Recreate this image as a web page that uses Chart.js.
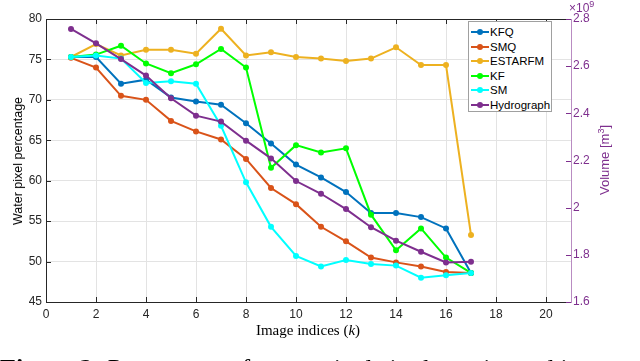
<!DOCTYPE html>
<html>
<head>
<meta charset="utf-8">
<script src="https://cdn.jsdelivr.net/npm/chart.js@4.4.0/dist/chart.umd.min.js"></script>
<style>
  body { margin: 0; background: #fff; }
  .wrap { position: relative; width: 640px; height: 361px; overflow: hidden; font-family: "Liberation Sans", Arial, sans-serif; }
  canvas { position: absolute; left: 0; top: 0; }
  .legend { position: absolute; left: 468px; top: 21px; width: 82px; height: 89px; background: #fff; border: 1px solid #a0a0a0; }
  .legend .row { position: absolute; left: 0; height: 14px; font-size: 11.5px; line-height: 14px; color: #000; white-space: nowrap; }
  .legend .swatch { position: absolute; left: 2px; top: 6px; width: 18px; height: 2px; }
  .legend .dot { position: absolute; left: 6px; top: -2px; width: 6px; height: 6px; border-radius: 50%; }
  .legend .txt { position: absolute; left: 21px; top: 0; }
  .ylab { position: absolute; left: 18px; top: 161px; font-size: 12.5px; transform: translate(-50%, -50%) rotate(-90deg); white-space: nowrap; color: #000; }
  .y2lab { position: absolute; left: 604px; top: 160px; font-size: 13px; transform: translate(-50%, -50%) rotate(-90deg); white-space: nowrap; color: #7E2F8E; }
  .y2lab sup, .exp sup { font-size: 9px; }
  .exp { position: absolute; left: 569px; top: -1px; font-size: 12px; color: #7E2F8E; }
  .xlab { position: absolute; left: 308px; top: 322px; transform: translateX(-50%); font-family: "Liberation Serif", "Times New Roman", serif; font-size: 15px; white-space: nowrap; }
  .caption { position: absolute; left: 0; top: 356px; font-family: "Liberation Serif", "Times New Roman", serif; font-size: 26px; line-height: 26px; white-space: nowrap; }
</style>
</head>
<body>
<div class="wrap">
  <canvas id="myChart" width="640" height="361"></canvas>
  <div class="legend" id="legend"></div>
  <div class="ylab">Water pixel percentage</div>
  <div class="y2lab">Volume [m<sup>3</sup>]</div>
  <div class="exp">&times;10<sup>9</sup></div>
  <div class="xlab">Image indices (<i>k</i>)</div>
  <div class="caption"><b>Figure 2:</b> Percentage of water pixels in the estimated images</div>
</div>
<script>
const indices = [1, 2, 3, 4, 5, 6, 7, 8, 9, 10, 11, 12, 13, 14, 15, 16, 17];

const kfq = [75.3, 75.3, 72.0, 72.5, 70.3, 69.8, 69.4, 67.1, 64.6, 62.0, 60.4, 58.6, 56.0, 56.0, 55.5, 54.1, 48.6];
const smq = [75.2, 74.0, 70.5, 70.0, 67.4, 66.1, 65.1, 62.7, 59.1, 57.1, 54.3, 52.5, 50.5, 49.9, 49.4, 48.7, 48.6];
const estarfm = [75.3, 76.9, 75.5, 76.2, 76.2, 75.7, 78.8, 75.5, 75.9, 75.3, 75.1, 74.8, 75.1, 76.5, 74.3, 74.3, 53.3];
const kf = [75.3, 75.6, 76.7, 74.5, 73.3, 74.4, 76.3, 74.0, 61.6, 64.4, 63.5, 64.0, 55.8, 51.4, 54.1, 50.5, 48.6];
const sm = [75.3, 75.5, 75.1, 72.1, 72.3, 72.0, 66.8, 59.8, 54.3, 50.7, 49.4, 50.2, 49.7, 49.5, 48.0, 48.3, 48.6];
// volume in m^3 (right axis)
const hydrograph = [2.758e9, 2.697e9, 2.630e9, 2.560e9, 2.464e9, 2.390e9, 2.365e9, 2.284e9, 2.209e9,
  2.113e9, 2.059e9, 1.994e9, 1.917e9, 1.860e9, 1.813e9, 1.768e9, 1.771e9];

const names = ["KFQ", "SMQ", "ESTARFM", "KF", "SM", "Hydrograph"];
const colors = ["#0072BD", "#D95319", "#EDB120", "#00FF00", "#00FFFF", "#7E2F8E"];
const series = [kfq, smq, estarfm, kf, sm, hydrograph];

const leftTicks = [45, 50, 55, 60, 65, 70, 75, 80];
const rightTicks = [1.6e9, 1.8e9, 2.0e9, 2.2e9, 2.4e9, 2.6e9, 2.8e9];
const xTicks = [0, 2, 4, 6, 8, 10, 12, 14, 16, 18, 20];

const datasets = series.map((s, i) => ({
  label: names[i],
  data: indices.map((k, j) => ({ x: k, y: s[j] })),
  borderColor: colors[i],
  backgroundColor: colors[i],
  borderWidth: 2,
  pointRadius: 3,
  pointBorderWidth: 0,
  pointHoverRadius: 3,
  tension: 0,
  yAxisID: i === 5 ? "y2" : "y",
  order: names.length - i,
}));

// legend
const legendEl = document.getElementById("legend");
names.forEach((n, i) => {
  const row = document.createElement("div");
  row.className = "row";
  row.style.top = (3 + i * 14.5) + "px";
  row.innerHTML = '<div class="swatch" style="background:' + colors[i] + '"><div class="dot" style="background:' +
    colors[i] + '"></div></div><div class="txt">' + n + "</div>";
  legendEl.appendChild(row);
});

// MATLAB style inward tick marks
const innerTicks = {
  id: "innerTicks",
  afterDraw(chart) {
    const { ctx, chartArea: a, scales } = chart;
    ctx.save();
    ctx.lineWidth = 1;
    ctx.strokeStyle = "#262626";
    ctx.beginPath();
    xTicks.forEach(v => {
      const px = Math.round(scales.x.getPixelForValue(v)) + 0.5;
      ctx.moveTo(px, a.bottom); ctx.lineTo(px, a.bottom - 5);
      ctx.moveTo(px, a.top); ctx.lineTo(px, a.top + 5);
    });
    leftTicks.forEach(v => {
      const py = Math.round(scales.y.getPixelForValue(v)) + 0.5;
      ctx.moveTo(a.left, py); ctx.lineTo(a.left + 5, py);
    });
    ctx.stroke();
    ctx.strokeStyle = "#7E2F8E";
    ctx.beginPath();
    rightTicks.forEach(v => {
      const py = Math.round(scales.y2.getPixelForValue(v)) + 0.5;
      ctx.moveTo(a.right, py); ctx.lineTo(a.right - 5, py);
    });
    ctx.stroke();
    ctx.restore();
  },
};

const tickFont = { family: "Liberation Sans", size: 12 };

const ctx = document.getElementById("myChart");
const myChart = new Chart(ctx, {
  type: "line",
  data: { datasets: datasets },
  options: {
    responsive: false,
    animation: false,
    layout: { padding: { top: 19, left: 0, right: 0, bottom: 0 } },
    plugins: { legend: { display: false }, tooltip: { enabled: false } },
    scales: {
      x: {
        type: "linear",
        position: "bottom",
        min: 0,
        max: 21,
        afterBuildTicks: s => { s.ticks = xTicks.map(v => ({ value: v })); },
        afterFit: s => { s.height = 59; },
        ticks: { color: "#262626", font: tickFont, padding: 5, maxRotation: 0 },
        grid: { color: "#e3e3e3", drawTicks: false },
        border: { color: "#262626", width: 1 },
      },
      xTop: {
        type: "linear",
        position: "top",
        min: 0,
        max: 21,
        afterFit: s => { s.height = 0; },
        ticks: { display: false },
        grid: { display: false, drawTicks: false },
        border: { color: "#262626", width: 1 },
      },
      y: {
        position: "left",
        min: 45,
        max: 80,
        afterBuildTicks: s => { s.ticks = leftTicks.map(v => ({ value: v })); },
        afterFit: s => { s.width = 46; },
        ticks: { color: "#262626", font: tickFont, padding: 4 },
        grid: { color: "#e3e3e3", drawTicks: false },
        border: { color: "#262626", width: 1 },
      },
      y2: {
        position: "right",
        min: 1.6e9,
        max: 2.8e9,
        afterBuildTicks: s => { s.ticks = rightTicks.map(v => ({ value: v })); },
        afterFit: s => { s.width = 69; },
        ticks: {
          color: "#7E2F8E",
          font: tickFont,
          padding: 2,
          callback: v => String(Number((v / 1e9).toFixed(1))),
        },
        grid: { display: false, drawTicks: false },
        border: { color: "#b98cc2", width: 1 },
      },
    },
  },
  plugins: [innerTicks],
});
</script>
</body>
</html>
